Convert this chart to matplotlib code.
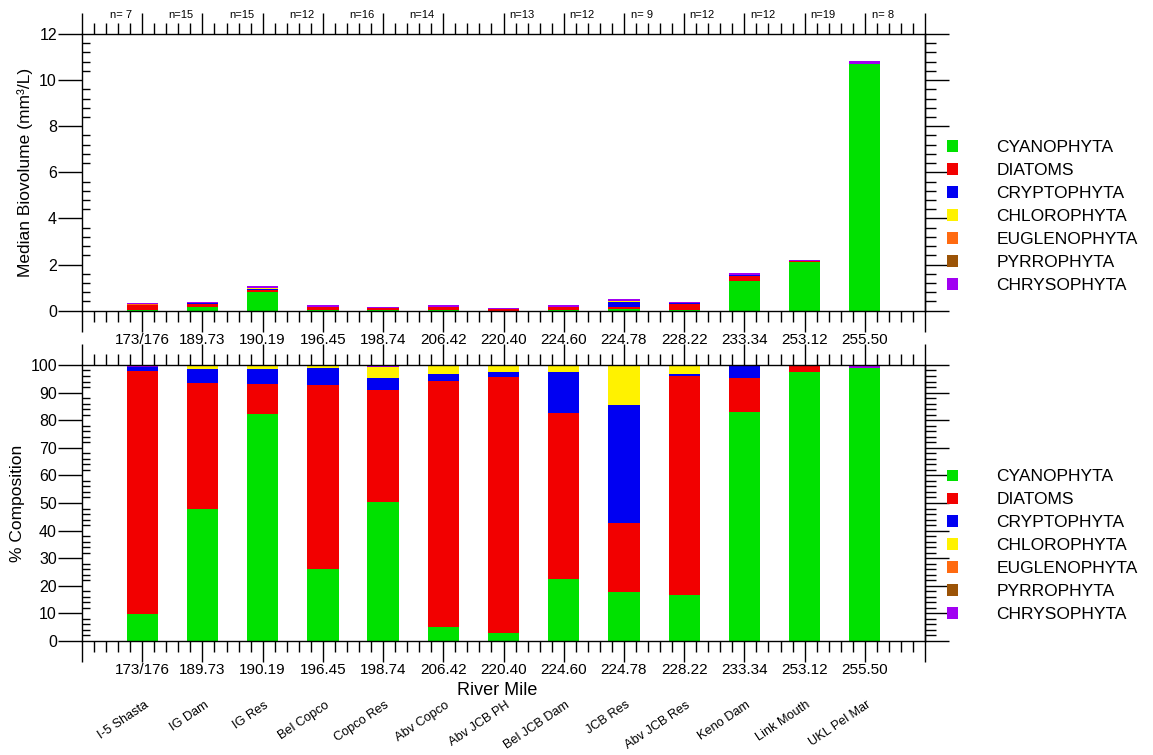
import numpy as np
import matplotlib
matplotlib.use("Agg")
import matplotlib.pyplot as plt
from matplotlib.ticker import MultipleLocator
from matplotlib.patches import Patch
import matplotlib.transforms as mtransforms

plt.rcParams['font.family'] = ['Liberation Sans', 'DejaVu Sans']

# ---------------- data ----------------
sites = ['I-5 Shasta', 'IG Dam', 'IG Res', 'Bel Copco', 'Copco Res', 'Abv Copco',
         'Abv JCB PH', 'Bel JCB Dam', 'JCB Res', 'Abv JCB Res', 'Keno Dam',
         'Link Mouth', 'UKL Pel Mar']
river_mile = ['173/176', '189.73', '190.19', '196.45', '198.74', '206.42', '220.40',
              '224.60', '224.78', '228.22', '233.34', '253.12', '255.50']
n_labels = ['n= 7', 'n=15', 'n=15', 'n=12', 'n=16', 'n=14', 'n=13', 'n=12',
            'n= 9', 'n=12', 'n=12', 'n=19', 'n= 8']
groups = ['CYANOPHYTA', 'DIATOMS', 'CRYPTOPHYTA', 'CHLOROPHYTA', 'EUGLENOPHYTA',
          'PYRROPHYTA', 'CHRYSOPHYTA']

# median biovolume (mm3/L)
cyano_bv = [0.02, 0.15, 0.80, 0.03, 0.05, 0.01, 0.005, 0.02, 0.06, 0.03, 1.29, 2.09, 10.68]
diat_bv = [0.22, 0.16, 0.10, 0.13, 0.05, 0.14, 0.05, 0.12, 0.10, 0.28, 0.20, 0.06, 0.02]
crypt_bv = [0.02, 0.02, 0.06, 0.01, 0.01, 0.01, 0.005, 0.03, 0.22, 0.01, 0.05, 0.0, 0.0]
chloro_bv = [0.005, 0.01, 0.01, 0.005, 0.005, 0.005, 0.005, 0.01, 0.02, 0.01, 0.01, 0.005, 0.005]
eugl_bv = [0.005, 0.005, 0.005, 0.0, 0.0, 0.0, 0.0, 0.0, 0.005, 0.0, 0.005, 0.0, 0.0]
pyrro_bv = [0.005, 0.0, 0.005, 0.005, 0.0, 0.0, 0.005, 0.0, 0.0, 0.0, 0.005, 0.0, 0.0]
chryso_bv = [0.07, 0.05, 0.07, 0.07, 0.04, 0.06, 0.06, 0.06, 0.10, 0.05, 0.06, 0.04, 0.12]

# percent composition
cyano_pct = [9.8, 47.8, 82.3, 26.1, 50.4, 5.0, 2.9, 22.5, 17.8, 16.7, 83.0, 97.6, 99.0]
diat_pct = [88.1, 45.8, 10.9, 66.8, 40.7, 89.3, 92.9, 60.2, 25.0, 79.4, 12.2, 2.0, 0.0]
crypt_pct = [1.4, 4.9, 5.3, 5.9, 4.2, 2.4, 1.8, 14.9, 42.7, 0.6, 4.3, 0.0, 0.0]
chloro_pct = [0.1, 1.0, 1.0, 0.7, 4.0, 2.9, 1.9, 2.0, 14.2, 2.9, 0.1, 0.0, 0.0]
eugl_pct = [0.0, 0.1, 0.0, 0.0, 0.0, 0.0, 0.0, 0.0, 0.0, 0.0, 0.0, 0.0, 0.0]
pyrro_pct = [0.0, 0.0, 0.0, 0.1, 0.0, 0.0, 0.1, 0.0, 0.0, 0.0, 0.1, 0.0, 0.0]
chryso_pct = [0.6, 0.4, 0.5, 0.4, 0.7, 0.4, 0.4, 0.4, 0.3, 0.4, 0.3, 0.4, 1.0]

colors = ['#00E100', '#F20000', '#0000F2', '#FFF200', '#FF6A10', '#9B5306', '#A100F2']

bv_series = [cyano_bv, diat_bv, crypt_bv, chloro_bv, eugl_bv, pyrro_bv, chryso_bv]
pct_series = [cyano_pct, diat_pct, crypt_pct, chloro_pct, eugl_pct, pyrro_pct, chryso_pct]

# ---------------- figure ----------------
fig = plt.figure(figsize=(11.53, 7.55), dpi=100)
ax1 = fig.add_axes([0.0711, 0.5885, 0.7312, 0.3665])
ax2 = fig.add_axes([0.0711, 0.151, 0.7312, 0.3656])

x = np.arange(1, len(sites) + 1)
bar_w = 0.52


def stack(ax, series):
    bottom = np.zeros(len(x))
    for vals, c in zip(series, colors):
        v = np.array(vals, dtype=float)
        ax.bar(x, v, width=bar_w, bottom=bottom, color=c, edgecolor='none', zorder=2)
        bottom += v


stack(ax1, bv_series)
stack(ax2, pct_series)


def style(ax, ymax, ymajor, yminor):
    ax.set_xlim(0, 14)
    ax.set_ylim(0, ymax)
    ax.set_xticks(np.arange(0, 15))
    ax.set_xticklabels([''] + river_mile + [''])
    ax.xaxis.set_minor_locator(MultipleLocator(0.2))
    ax.tick_params(axis='x', which='major', direction='out', length=15, width=1,
                   top=True, bottom=True, labelsize=11, pad=1)
    ax.tick_params(axis='x', which='minor', direction='out', length=8, width=1,
                   top=True, bottom=True)
    ax.set_yticks(np.arange(0, ymax + 0.001, ymajor))
    ax.yaxis.set_minor_locator(MultipleLocator(yminor))
    ax.tick_params(axis='y', which='major', direction='out', length=17, width=1,
                   left=True, right=False, labelsize=11.5, pad=1)
    ax.tick_params(axis='y', which='minor', direction='in', length=6, width=1,
                   left=True, right=False)
    sec = ax.secondary_yaxis('right')
    sec.set_yticks(np.arange(0, ymax + 0.001, ymajor))
    sec.yaxis.set_minor_locator(MultipleLocator(yminor))
    sec.tick_params(axis='y', which='major', direction='out', length=17, width=1,
                    labelright=False)
    sec.tick_params(axis='y', which='minor', direction='out', length=8, width=1)
    for s in ax.spines.values():
        s.set_linewidth(1)
    sec.spines['right'].set_linewidth(1)


style(ax1, 12, 2, 0.4)
style(ax2, 100, 10, 2)

ax1.set_ylabel('Median Biovolume (mm³/L)', fontsize=12.5)
ax1.yaxis.set_label_coords(-0.058, 0.5)
ax2.set_ylabel('% Composition', fontsize=12.5)
ax2.yaxis.set_label_coords(-0.068, 0.5)
ax2.set_xlabel('River Mile', fontsize=13)
ax2.xaxis.set_label_coords(0.492, -0.149)

# n labels above top panel
trans1 = mtransforms.blended_transform_factory(ax1.transData, ax1.transAxes)
for i, lab in enumerate(n_labels):
    xpos = (i + 1) + (-0.35 if i < 6 else 0.30)
    ax1.text(xpos, 1.069, lab, transform=trans1, ha='center', va='center', fontsize=8)

# rotated site names
trans2 = mtransforms.blended_transform_factory(ax2.transData, ax2.transAxes)
for xi, name in zip(x, sites):
    ax2.text(xi + 0.08, -0.228, name, transform=trans2, rotation=34,
             rotation_mode='anchor', ha='right', va='center', fontsize=9.2)

# legends
handles = [Patch(facecolor=c, edgecolor='none') for c in colors]
for yc in (0.713, 0.277):
    fig.legend(handles, groups, loc='center left', bbox_to_anchor=(0.8213, yc),
               frameon=False, fontsize=12.5, handlelength=0.65, handleheight=0.65,
               handletextpad=2.2, labelspacing=0.46, borderpad=0, borderaxespad=0)

fig.savefig('out.png', dpi=100)
